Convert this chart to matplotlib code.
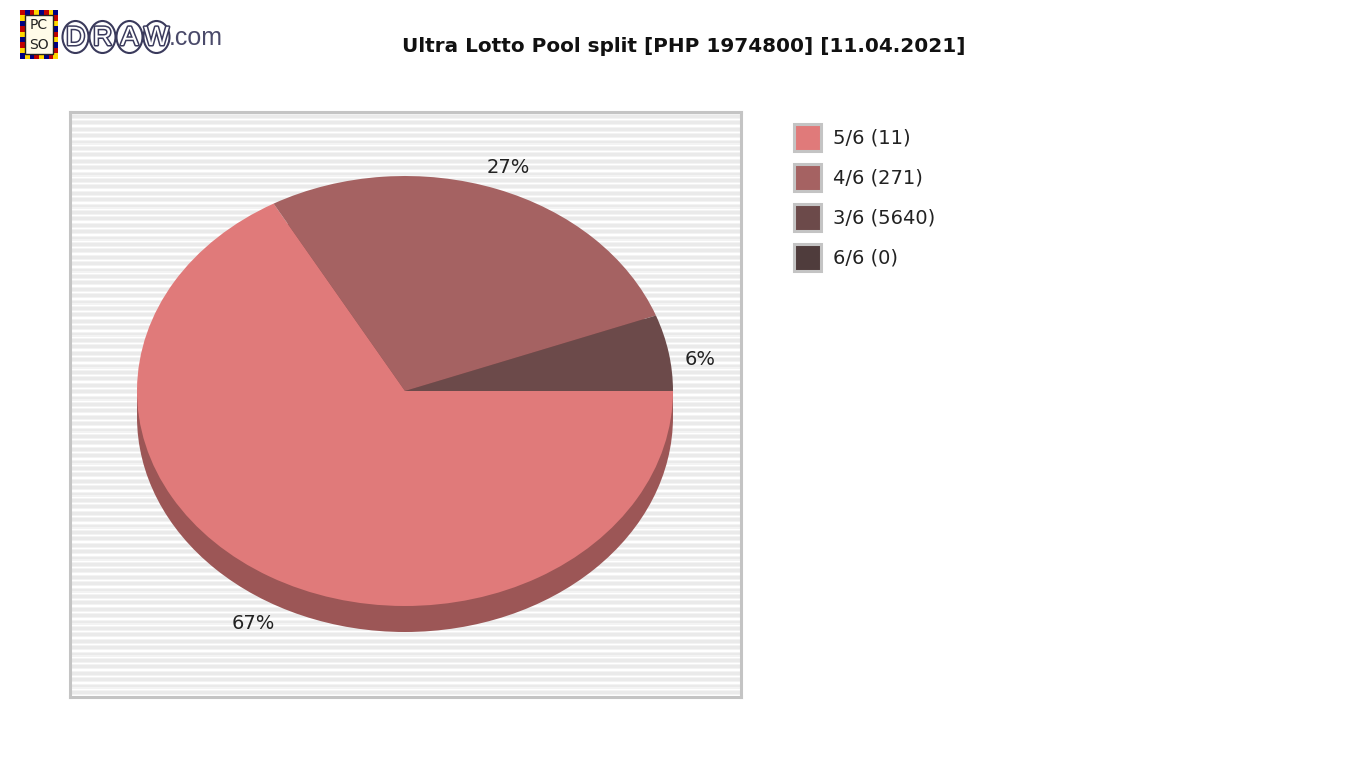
import matplotlib
matplotlib.use("Agg")
import matplotlib.pyplot as plt
from matplotlib.patches import Rectangle, Ellipse
import matplotlib.patheffects as pe
import numpy as np

# Data: pool split per prize tier (PHP)
categories = ["5/6 (11)", "4/6 (271)", "3/6 (5640)", "6/6 (0)"]
amounts = [1320000, 542000, 112800, 0]
colors = ["#e07a7a", "#a56262", "#6c4a4a", "#4f3c3c"]
side_color = "#9c5656"
title = "Ultra Lotto Pool split [PHP 1974800] [11.04.2021]"

W, H = 1366, 768
fig = plt.figure(figsize=(W / 100, H / 100), dpi=100)


def fx(x):
    return x / W


def fy(y):
    return 1 - y / H


def px_axes(x0, y0, x1, y1):
    return fig.add_axes([fx(x0), fy(y1), fx(x1 - x0), (y1 - y0) / H])


# frame of pie area (pixels from top-left)
fl, ft, fr, fb = 70, 112, 741, 697
cx, cy, rx, ry = 405, 391, 268, 215
depth = 26 / ry

ax = px_axes(fl, ft, fr, fb)
xlim = ((fl - cx) / rx, (fr - cx) / rx)
ylim = (-(fb - cy) / ry, (cy - ft) / ry)

# striped background
rows = np.arange(fb - ft)
phase = (rows % 6.4) / 6.4
shade = np.where(phase < 0.22, 1.0, np.where(phase < 0.38, 0.955, np.where(phase < 0.84, 0.915, 0.955)))
bg = np.repeat(shade[:, None], 4, axis=1)
ax.imshow(bg, cmap="gray", vmin=0, vmax=1, aspect="auto",
          extent=(xlim[0], xlim[1], ylim[0], ylim[1]), origin="upper", zorder=0,
          interpolation="nearest")

# 3D side
ax.add_patch(Rectangle((-1, -depth), 2, depth, facecolor=side_color, edgecolor="none", zorder=1))
ax.add_patch(Ellipse((0, -depth), 2, 2, facecolor=side_color, edgecolor="none", zorder=1))

wedges, _ = ax.pie(amounts, colors=colors, startangle=0, counterclock=False,
                   radius=1, center=(0, 0), wedgeprops=dict(linewidth=0))
for w in wedges:
    w.set_zorder(2)

total = sum(amounts)
for w, a in zip(wedges, amounts):
    if a == 0:
        continue
    mid = np.deg2rad((w.theta1 + w.theta2) / 2)
    lx, ly = 1.12 * np.cos(mid), 1.11 * np.sin(mid)
    if ly < 0:
        ly -= depth
    else:
        ly -= depth * 0.5 * (1 - np.sin(mid))
    ax.text(lx, ly, f"{round(100 * a / total)}%", ha="center", va="center",
            fontsize=14, color="#222222", zorder=3)

ax.set_aspect("auto")
ax.set_xlim(*xlim)
ax.set_ylim(*ylim)
ax.set_xticks([])
ax.set_yticks([])
ax.set_frame_on(True)
for s in ax.spines.values():
    s.set_visible(True)
    s.set_color("#c4c4c4")
    s.set_linewidth(2.2)

# legend
lg = fig.add_axes([0, 0, 1, 1])
lg.set_xlim(0, W)
lg.set_ylim(H, 0)
lg.axis("off")
lg.patch.set_alpha(0)
for i, (lab, c) in enumerate(zip(categories, colors)):
    y = 123 + 40 * i
    lg.add_patch(Rectangle((794, y + 1), 27, 27, facecolor=c, edgecolor="#c4c4c4", linewidth=2.2))
    lg.text(833, y + 15, lab, ha="left", va="center", fontsize=14, color="#222222")

# title
lg.text(684, 46, title, ha="center", va="center", fontsize=14.4, fontweight="bold", color="#111111")

# logo
sq = ["#ffd700", "#c00000", "#000080"]
n = 0
for i in range(8):
    for (x, y) in [(20 + i * 4.75, 10), (20 + i * 4.75, 54)]:
        lg.add_patch(Rectangle((x, y), 4.75, 5, facecolor=sq[n % 3], edgecolor="none"))
        n += 1
for j in range(9):
    for (x, y) in [(20, 10 + j * 5.4), (53, 10 + j * 5.4)]:
        lg.add_patch(Rectangle((x, y), 5, 5.4, facecolor=sq[n % 3], edgecolor="none"))
        n += 1
lg.add_patch(Rectangle((25, 15), 28, 39, facecolor="#fffbe8", edgecolor="#222222", linewidth=1))
lg.text(39, 25, "PC", ha="center", va="center", fontsize=10, color="#222222")
lg.text(39, 45, "SO", ha="center", va="center", fontsize=10, color="#222222")
for k, ch in enumerate("DRAW"):
    ex = 75.5 + 27 * k
    lg.add_patch(Ellipse((ex, 37), 26, 32, facecolor="white", edgecolor="#3a3a5c", linewidth=1.5))
    lg.text(ex, 38, ch, ha="center", va="center", fontsize=19, family="Liberation Sans",
            color="white", path_effects=[pe.withStroke(linewidth=2.2, foreground="#3a3a5c")])
lg.text(169, 38, ".com", ha="left", va="center", fontsize=18, family="Liberation Sans",
        color="#4a4a6a")

fig.savefig("out.png", dpi=100)
